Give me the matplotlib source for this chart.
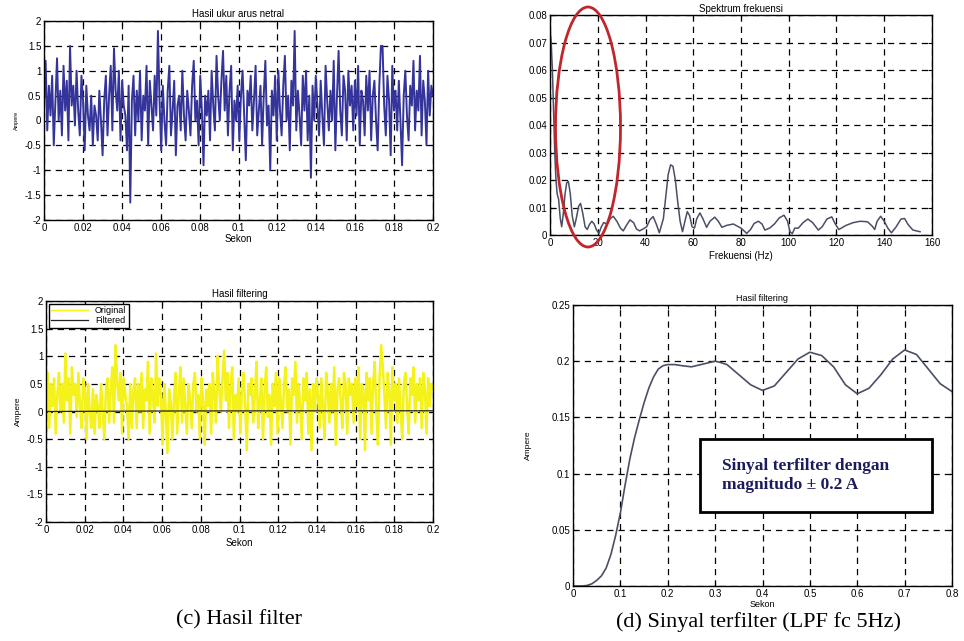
import numpy as np
import matplotlib
matplotlib.use("Agg")
import matplotlib.pyplot as plt
from matplotlib.patches import Ellipse, Rectangle
from matplotlib.ticker import FuncFormatter

# ---------------- data ----------------
# (a) measured neutral current, 0..0.2 s
arus_netral = [
    0.3, 1.2, -0.2, 0.7, 0.1, 0.9, -0.5, 0.4, 1.25, 0.0,
    0.6, -0.3, 1.1, 0.2, 0.8, -0.4, 1.5, 0.3, 0.7, -0.1,
    1.0, 0.2, -0.3, 0.9, 0.4, -0.6, 0.7, 0.1, -0.2, 0.5,
    -0.5, 0.3, 0.1, -0.4, 0.6, 0.0, -0.7, 0.4, 0.9, -0.3,
    0.5, 1.1, -0.2, 1.45, 0.6, 0.2, 1.0, -0.4, 0.8, 0.3,
    0.1, -0.6, 0.7, -1.65, 0.4, 0.9, -0.3, 0.6, 0.0, 1.0,
    -0.4, 0.5, 0.2, 1.1, -0.5, 0.8, 0.3, -0.2, 0.9, 0.1,
    1.8, 0.4, -0.6, 0.7, 0.0, -0.5, 0.6, 1.1, -0.3, 0.2,
    0.8, -0.7, 0.3, 0.5, -0.2, 1.0, 0.1, -0.4, 0.6, 0.2,
    -0.3, 0.7, 1.2, 0.0, 0.4, -0.5, 0.9, 0.2, -0.9, 0.5,
    0.1, 0.6, -0.4, 1.0, 0.3, -0.2, 1.3, 0.5, 0.0, 0.8,
    1.4, 0.2, 0.9, -0.3, 0.6, 1.1, -0.6, 0.4, 0.0, 0.7,
    -0.4, 0.5, 1.0, 0.1, -0.8, 0.6, 0.3, 0.9, -0.2, 0.4,
    1.1, -0.3, 0.2, 0.7, -0.5, 0.5, 1.2, -0.1, 0.3, -1.0,
    0.6, 0.1, 0.9, -0.4, 1.0, 0.2, -0.3, 0.7, 1.3, 0.0,
    0.5, -0.6, 0.8, 0.3, 1.8, -0.2, 0.6, 0.1, -0.5, 0.9,
    0.2, 1.0, -0.4, 0.5, -1.15, 0.7, 0.0, 0.9, 0.3, -0.3,
    0.8, 0.1, -0.5, 1.1, 0.4, -0.2, 0.6, 0.0, 1.2, -0.6,
    0.5, 1.4, 0.2, -0.3, 0.9, 0.6, -0.4, 1.0, 0.3, 0.7,
    -0.2, 0.8, 0.1, 1.1, -0.5, 0.6, 0.4, -0.3, 0.9, 0.2,
    1.0, -0.4, 0.5, 0.8, 0.0, -0.6, 0.7, 1.5, 1.5, 0.3,
    -0.3, 0.9, 0.4, -0.7, 1.1, 0.2, 0.6, -0.2, 0.8, 0.0,
    -0.9, 0.5, 1.0, 0.1, -0.4, 0.7, 0.3, 1.2, -0.2, 0.6,
    0.2, 1.3, -0.3, 0.8, 0.4, -0.5, 1.0, 0.1, 0.7, 0.5,
]

# (b) frequency spectrum
frek_hz = [0, 0.5, 1, 1.5, 2, 2.5, 3, 3.6, 4.3, 4.9, 5.6, 6.3, 7, 7.7, 8.5, 9.3, 10.2, 11, 12,
           12.8, 13.7, 14.7, 15.6, 16.5, 17.5, 18.5, 19.5, 20.5, 21.5, 22.5, 24, 25.3, 26.5, 28,
           29.5, 30.7, 32, 33.5, 35, 36.2, 37.5, 39, 40.5, 41.8, 43.2, 44.5, 45.8, 47.5, 48.5,
           49.5, 50.5, 51.5, 52.5, 53.5, 54.5, 55.5, 56.5, 57.5, 58.5, 59.5, 60.5, 61.5, 62.8,
           64, 65.6, 67, 69, 70.5, 72, 74, 76.8, 78.5, 80, 82.4, 84, 85.5, 87.3, 88.8, 90, 92,
           94, 96, 98, 99.5, 100.5, 101.5, 102.5, 104, 106, 108, 110, 112.4, 114, 116, 118,
           119.5, 121, 124, 127, 130, 133, 135, 136, 137, 138.5, 140, 141.5, 143, 145, 147,
           148.5, 150, 152, 155]
spektrum = [0.075, 0.07, 0.06, 0.045, 0.03, 0.02, 0.015, 0.013, 0.006, 0.003, 0.008, 0.015,
            0.019, 0.0195, 0.015, 0.007, 0.003, 0.006, 0.0105, 0.0115, 0.008, 0.003, 0.002,
            0.0038, 0.005, 0.004, 0.0018, 0.0006, 0.003, 0.0045, 0.004, 0.006, 0.0068, 0.005,
            0.0025, 0.0015, 0.0035, 0.0055, 0.0045, 0.0022, 0.0015, 0.0022, 0.003, 0.0055,
            0.0067, 0.004, 0.0008, 0.006, 0.014, 0.022, 0.0255, 0.025, 0.02, 0.012, 0.005,
            0.0012, 0.005, 0.0085, 0.007, 0.003, 0.0025, 0.006, 0.008, 0.006, 0.0028, 0.005,
            0.0065, 0.005, 0.0028, 0.0035, 0.004, 0.0032, 0.0025, 0.0006, 0.002, 0.0042, 0.005,
            0.004, 0.0018, 0.0025, 0.004, 0.0062, 0.0072, 0.005, 0.0012, 0.0005, 0.0025, 0.0025,
            0.0045, 0.0058, 0.0045, 0.0018, 0.003, 0.0058, 0.0066, 0.004, 0.002, 0.0035, 0.0045,
            0.005, 0.0048, 0.0032, 0.002, 0.005, 0.0068, 0.005, 0.0025, 0.0008, 0.003, 0.0058,
            0.006, 0.0038, 0.0018, 0.0012]

# (c) filtering result: original (noisy) and filtered
original = [
    0.4, 0.7, -0.3, 0.5, 0.1, 0.6, -0.4, 0.3, 0.7, 0.0,
    0.5, -0.2, 1.05, 0.2, 0.6, -0.4, 0.8, 0.3, 0.5, -0.1,
    0.7, 0.1, -0.3, 0.6, 0.4, -0.5, 0.5, 0.0, -0.3, 0.4,
    -0.4, 0.3, 0.1, -0.3, 0.5, 0.0, -0.5, 0.4, 0.6, -0.2,
    0.4, 0.8, -0.2, 1.2, 0.5, 0.2, 0.7, -0.4, 0.6, 0.3,
    0.1, -0.5, 0.5, -0.3, 0.4, 0.6, -0.3, 0.5, 0.0, 0.7,
    -0.3, 0.4, 0.2, 0.9, -0.4, 0.6, 0.3, -0.2, 1.05, 0.1,
    0.6, 0.3, -0.6, 0.5, 0.0, -0.75, 0.4, 0.2, -0.5, 0.2,
    0.7, -0.4, 0.3, 0.8, -0.2, 0.6, 0.1, -0.4, 0.5, 0.2,
    -0.3, 0.5, 0.7, 0.0, 0.3, -0.5, 0.6, 0.2, -0.6, 0.4,
    0.1, 0.5, -0.4, 0.7, 0.3, -0.2, 1.0, 0.4, 0.0, 0.6,
    1.1, 0.2, 0.7, -0.3, 0.5, 0.8, -0.5, 0.3, 0.0, 0.6,
    -0.4, 0.4, 0.7, 0.1, -0.7, 0.5, 0.3, 0.6, -0.2, 0.3,
    0.9, -0.3, 0.2, 0.6, -0.5, 0.4, 0.8, -0.1, 0.3, -0.6,
    0.5, 0.1, 0.7, -0.4, 0.6, 0.2, -0.3, 0.5, 0.8, 0.0,
    0.4, -0.6, 0.6, 0.3, 0.9, -0.2, 0.5, 0.1, -0.5, 0.6,
    0.2, 0.7, -0.4, 0.4, -0.7, 0.5, 0.0, 0.6, 0.3, -0.3,
    0.6, 0.1, -0.5, 0.7, 0.4, -0.2, 0.5, 0.0, 0.8, -0.6,
    0.4, 0.6, 0.2, -0.3, 0.7, 0.5, -0.4, 0.6, 0.3, 0.5,
    -0.2, 0.6, 0.1, 0.8, -0.5, 0.5, 0.4, -0.7, 0.7, 0.2,
    0.6, -0.4, 0.5, 0.9, 0.0, -0.6, 0.6, 1.2, 0.8, 0.3,
    -0.3, 0.7, 0.4, -0.6, 0.8, 0.2, 0.5, -0.2, 0.6, 0.0,
    -0.5, 0.5, 0.7, 0.1, -0.4, 0.6, 0.3, 0.8, -0.2, 0.5,
    0.2, 0.6, -0.3, 0.7, 0.4, -0.4, 0.6, 0.1, 0.5, 0.4,
]
filtered = [0.0, 0.004, 0.008, 0.01, 0.011, 0.012, 0.012, 0.013, 0.013]

# (d) filtered signal, LPF fc 5 Hz
sekon_d = [0.0, 0.02, 0.03, 0.04, 0.05, 0.06, 0.07, 0.08, 0.09, 0.1, 0.11, 0.12, 0.13, 0.14,
           0.15, 0.16, 0.17, 0.18, 0.19, 0.2, 0.215, 0.23, 0.25, 0.27, 0.29, 0.3, 0.31, 0.325,
           0.35, 0.375, 0.4, 0.425, 0.45, 0.475, 0.5, 0.525, 0.55, 0.575, 0.6, 0.625, 0.65,
           0.675, 0.7, 0.725, 0.75, 0.775, 0.8]
ampere_d = [0.0, 0.0, 0.0005, 0.002, 0.005, 0.009, 0.016, 0.028, 0.045, 0.065, 0.09, 0.113,
            0.132, 0.148, 0.163, 0.176, 0.186, 0.193, 0.196, 0.197, 0.197, 0.196, 0.195, 0.197,
            0.199, 0.2, 0.199, 0.197, 0.188, 0.179, 0.174, 0.178, 0.19, 0.202, 0.208, 0.205,
            0.195, 0.179, 0.171, 0.176, 0.188, 0.202, 0.21, 0.206, 0.193, 0.18, 0.173]

# ---------------- figure ----------------
plt.rcParams['font.family'] = ['Liberation Sans', 'DejaVu Sans']
fig = plt.figure(figsize=(9.64, 6.41), dpi=100)
W, H = 964, 641

def axes_px(l, t, r, b):
    return fig.add_axes([l / W, 1 - b / H, (r - l) / W, (b - t) / H])

fmt = FuncFormatter(lambda v, p: f"{v:g}")
TICK_FS = 7

def style(ax):
    ax.grid(True, color='black', linestyle=(0, (5, 4)), linewidth=0.9)
    ax.tick_params(direction='in', top=True, right=True, labelsize=TICK_FS, pad=2,
                   length=3, width=0.8)
    for s in ax.spines.values():
        s.set_linewidth(1.0)
    ax.xaxis.set_major_formatter(fmt)
    ax.yaxis.set_major_formatter(fmt)

# (a)
ax1 = axes_px(44, 21, 433, 220)
t1 = np.linspace(0, 0.2, len(arus_netral))
ax1.plot(t1, arus_netral, color='#34349a', linewidth=1.4)
ax1.set_xlim(0, 0.2)
ax1.set_ylim(-2, 2)
ax1.set_xticks(np.arange(0, 0.2001, 0.02))
ax1.set_yticks(np.arange(-2, 2.01, 0.5))
style(ax1)
ax1.set_title('Hasil ukur arus netral', fontsize=7, pad=3)
ax1.set_xlabel('Sekon', fontsize=7, labelpad=1)
ax1.set_ylabel('Ampere', fontsize=4, labelpad=4)

# (b)
ax2 = axes_px(550, 15, 932, 235)
ax2.plot(frek_hz, spektrum, color='#4a4f66', linewidth=1.1)
ax2.set_xlim(0, 160)
ax2.set_ylim(0, 0.08)
ax2.set_xticks(np.arange(0, 161, 20))
ax2.set_yticks(np.arange(0, 0.0801, 0.01))
style(ax2)
ax2.set_title('Spektrum frekuensi', fontsize=7, pad=2)
ax2.set_xlabel('Frekuensi (Hz)', fontsize=7, labelpad=2)

# red ellipse highlighting the low-frequency region
fig.patches.append(Ellipse((588 / W, 1 - 127 / H), 65 / W, 240 / H,
                           transform=fig.transFigure, fill=False,
                           edgecolor='#c0262c', linewidth=2.0, zorder=10))

# (c)
ax3 = axes_px(46, 301, 433, 522)
t3 = np.linspace(0, 0.2, len(original))
tf = np.linspace(0, 0.2, len(filtered))
ax3.plot(t3, original, color='#f4f21a', linewidth=1.8, label='Original')
ax3.plot(tf, filtered, color='#222222', linewidth=0.9, label='Filtered')
ax3.set_xlim(0, 0.2)
ax3.set_ylim(-2, 2)
ax3.set_xticks(np.arange(0, 0.2001, 0.02))
ax3.set_yticks(np.arange(-2, 2.01, 0.5))
style(ax3)
ax3.set_title('Hasil filtering', fontsize=7, pad=3)
ax3.set_xlabel('Sekon', fontsize=7, labelpad=2)
ax3.set_ylabel('Ampere', fontsize=6, labelpad=3)
leg = ax3.legend(loc='upper left', fontsize=6.5, frameon=True, fancybox=False,
                 edgecolor='black', borderaxespad=0.3, handlelength=4,
                 markerfirst=True, borderpad=0.3, labelspacing=0.1, framealpha=1)
leg.get_frame().set_linewidth(1.0)
leg.get_lines()[0].set_linewidth(1.0)

# (d)
ax4 = axes_px(573, 305, 952, 586)
ax4.plot(sekon_d, ampere_d, color='#4a4f66', linewidth=1.2)
ax4.set_xlim(0, 0.8)
ax4.set_ylim(0, 0.25)
ax4.set_xticks(np.arange(0, 0.801, 0.1))
ax4.set_yticks(np.arange(0, 0.2501, 0.05))
style(ax4)
ax4.set_title('Hasil filtering', fontsize=6.5, pad=3)
ax4.set_xlabel('Sekon', fontsize=6.5, labelpad=1)
ax4.set_ylabel('Ampere', fontsize=6, labelpad=14)
ax4.add_patch(Rectangle((0.268, 0.066), 0.49, 0.065, facecolor='white',
                        edgecolor='black', linewidth=2.0, zorder=5))
ax4.text(0.314, 0.0985, 'Sinyal terfilter dengan\nmagnitudo ± 0.2 A',
         family='Liberation Serif', fontweight='bold', fontsize=12.5, color='#1c1c5c',
         ha='left', va='center', linespacing=1.25, zorder=6)

# captions
fig.text(239 / W, 1 - 620 / H, '(c) Hasil filter', family='Liberation Serif',
         fontsize=16, ha='center', va='center')
fig.text(758 / W, 1 - 622 / H, '(d) Sinyal terfilter (LPF fc 5Hz)', family='Liberation Serif',
         fontsize=16, ha='center', va='center')

fig.savefig('out.png', dpi=100)
